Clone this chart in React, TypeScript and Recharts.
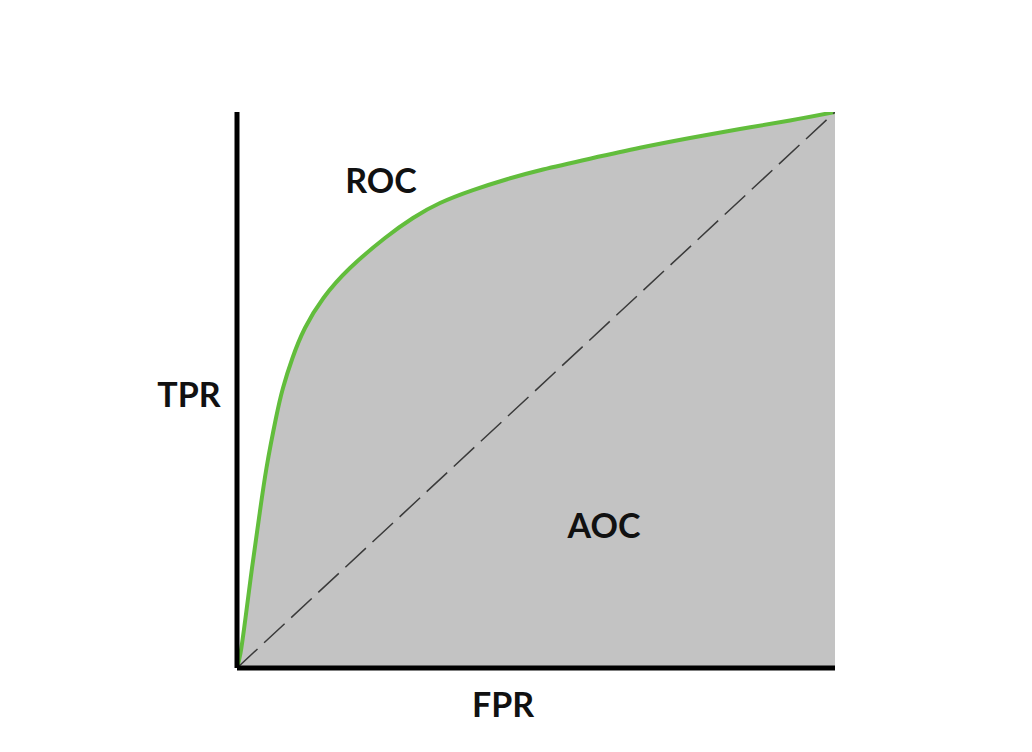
import React from 'react';
import { ComposedChart, Area, Line, XAxis, YAxis } from 'recharts';

const rocFpr = [0, 0.0059, 0.0142, 0.0251, 0.0368, 0.0493, 0.0652, 0.0769, 0.0928, 0.1137, 0.1446, 0.189, 0.2475, 0.2943, 0.3395, 0.3946, 0.4515, 0.5117, 0.5903, 0.6739, 0.7575, 0.8411, 0.9247, 1];
const rocTpr = [0, 0.027, 0.0899, 0.1799, 0.2698, 0.3597, 0.4496, 0.5036, 0.5576, 0.6115, 0.6655, 0.7194, 0.7734, 0.8094, 0.8363, 0.8595, 0.8791, 0.8966, 0.916, 0.9356, 0.9532, 0.9694, 0.9847, 1];

const diagFpr = [0, 1];
const diagTpr = [0, 1];

const rocData = rocFpr.map((x, i) => ({ fpr: x, tpr: rocTpr[i] }));
const diagData = diagFpr.map((x, i) => ({ fpr: x, diag: diagTpr[i] }));

const labels = [
  { text: 'TPR', x: 181, y: 399 },
  { text: 'FPR', x: 495, y: 709 },
  { text: 'ROC', x: 373, y: 185 },
  { text: 'AOC', x: 596, y: 530 },
];

const labelStyle = {
  fontFamily: 'Lato, "Open Sans", sans-serif',
  fontWeight: 700,
  fontSize: 34,
  fill: '#111',
};

export default function App() {
  return (
    <div style={{ position: 'relative', width: 1016, height: 736 }}>
      <ComposedChart
        width={1016}
        height={736}
        data={rocData}
        margin={{ top: 104, right: 189, bottom: 66, left: 219 }}
      >
        <Area
          data={rocData}
          type="natural"
          dataKey="tpr"
          stroke="#62bd3c"
          strokeWidth={4}
          fill="#c3c3c3"
          fillOpacity={1}
          dot={false}
          activeDot={false}
          isAnimationActive={false}
        />
        <Line
          data={diagData}
          type="linear"
          dataKey="diag"
          stroke="#3a3a3a"
          strokeWidth={1.5}
          strokeDasharray="28 9"
          dot={false}
          activeDot={false}
          isAnimationActive={false}
        />
        <XAxis
          type="number"
          dataKey="fpr"
          domain={[0, 1]}
          allowDataOverflow
          tick={false}
          tickLine={false}
          height={10}
          axisLine={{ stroke: '#000', strokeWidth: 5 }}
        />
        <YAxis
          type="number"
          domain={[0, 1]}
          allowDataOverflow
          tick={false}
          tickLine={false}
          width={10}
          axisLine={{ stroke: '#000', strokeWidth: 5 }}
        />
      </ComposedChart>
      <svg
        width={1016}
        height={736}
        style={{ position: 'absolute', left: 0, top: 0, pointerEvents: 'none' }}
      >
        {labels.map((l) => (
          <text key={l.text} x={l.x} y={l.y} textAnchor="middle" style={labelStyle}>
            {l.text}
          </text>
        ))}
      </svg>
    </div>
  );
}
